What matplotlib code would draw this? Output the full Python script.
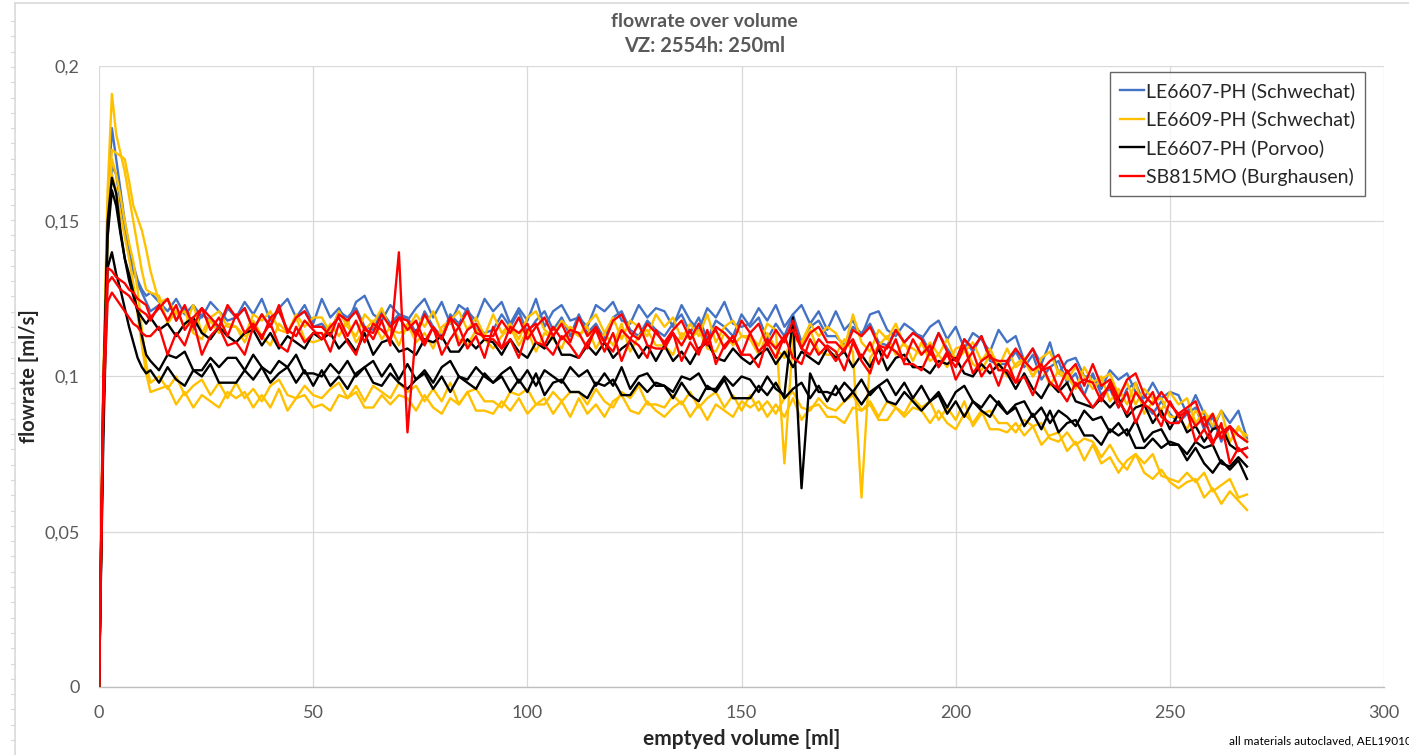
import numpy as np
import matplotlib
matplotlib.use("Agg")
import matplotlib.pyplot as plt
from matplotlib.lines import Line2D


# volume grid [ml]: 1 ml steps during the start-up, then 2 ml steps
volume = np.concatenate([np.arange(0, 12), np.arange(12, 269, 2)])

# flowrates in 1/1000 ml/s, one list per run
blue_a = [
    0, 95, 155, 180, 170, 160, 150, 142, 136, 131, 128, 126,
    127, 124, 121, 125, 120, 123, 119, 124, 121, 118,
    119, 124, 120, 125, 118, 122, 125, 119, 123, 117,
    125, 119, 122, 117, 124, 126, 120, 118, 123, 120,
    118, 122, 125, 119, 124, 117, 123, 121, 118, 125,
    121, 124, 117, 122, 118, 125, 116, 121, 123, 118,
    119, 116, 123, 121, 124, 118, 117, 123, 119, 122,
    121, 116, 123, 118, 115, 122, 119, 124, 117, 116,
    117, 122, 118, 123, 116, 120, 123, 117, 121, 115,
    121, 115, 118, 113, 120, 121, 115, 113, 117, 115,
    112, 116, 118, 112, 116, 109, 114, 112, 108, 115,
    111, 113, 105, 109, 104, 111, 101, 105, 106, 100,
    100, 96, 102, 99, 101, 95, 93, 98, 93, 95,
    94, 88, 94, 88, 83, 89, 85, 89, 80,
]
blue_b = [
    0, 85, 145, 168, 165, 156, 148, 140, 134, 130, 127, 124,
    121, 123, 125, 118, 122, 115, 120, 118, 115, 122,
    119, 122, 115, 120, 116, 122, 114, 119, 121, 116,
    117, 114, 121, 119, 122, 116, 115, 121, 117, 120,
    119, 114, 121, 116, 113, 120, 117, 122, 115, 114,
    115, 120, 116, 121, 114, 118, 121, 115, 119, 113,
    120, 114, 117, 112, 119, 121, 115, 113, 118, 115,
    113, 117, 120, 114, 119, 112, 118, 116, 113, 120,
    116, 119, 112, 117, 113, 120, 111, 116, 118, 113,
    113, 110, 116, 114, 117, 111, 110, 115, 111, 114,
    113, 108, 114, 109, 105, 112, 108, 113, 105, 104,
    104, 108, 103, 107, 99, 103, 105, 98, 101, 94,
    101, 94, 96, 90, 96, 98, 91, 88, 92, 88,
    85, 88, 90, 83, 87, 79, 84, 81, 79,
]
yellow_a = [
    0, 100, 160, 191, 178, 172, 166, 158, 150, 142, 134, 128,
    127, 126, 117, 121, 116, 123, 114, 119, 121, 116,
    116, 113, 120, 118, 121, 115, 114, 120, 116, 119,
    119, 114, 121, 116, 113, 120, 117, 122, 115, 114,
    115, 120, 116, 121, 114, 118, 121, 115, 119, 113,
    120, 114, 117, 112, 119, 121, 115, 113, 118, 115,
    113, 117, 120, 114, 119, 112, 118, 116, 113, 120,
    116, 119, 112, 117, 113, 120, 111, 116, 118, 113,
    113, 110, 117, 115, 72, 112, 111, 117, 113, 116,
    114, 109, 120, 111, 108, 115, 112, 117, 110, 109,
    107, 111, 107, 112, 105, 108, 111, 105, 109, 103,
    109, 103, 105, 100, 106, 108, 101, 99, 103, 100,
    96, 99, 101, 94, 98, 91, 96, 93, 89, 95,
    91, 93, 85, 89, 84, 89, 79, 83, 81,
]
yellow_b = [
    0, 95, 150, 173, 172, 171, 170, 163, 155, 151, 147, 141,
    134, 124, 125, 120, 121, 114, 112, 118, 114, 117,
    116, 111, 118, 113, 110, 117, 114, 119, 112, 111,
    112, 117, 113, 118, 111, 115, 118, 112, 116, 110,
    117, 111, 114, 109, 116, 118, 112, 110, 115, 112,
    109, 113, 116, 110, 115, 108, 114, 112, 109, 116,
    113, 116, 109, 114, 110, 117, 108, 113, 115, 110,
    110, 107, 114, 112, 115, 109, 108, 114, 110, 113,
    112, 107, 114, 109, 106, 113, 110, 115, 108, 107,
    107, 112, 108, 61, 106, 110, 113, 107, 111, 105,
    111, 105, 107, 103, 109, 110, 104, 102, 107, 104,
    100, 104, 106, 100, 104, 97, 102, 100, 96, 103,
    98, 100, 92, 96, 91, 98, 88, 92, 93, 87,
    87, 83, 89, 86, 88, 81, 79, 84, 79,
]
yellow_c = [
    0, 95, 150, 170, 165, 158, 150, 143, 137, 128, 115, 104,
    98, 100, 96, 100, 94, 97, 99, 94, 98, 93,
    98, 93, 96, 92, 97, 99, 94, 93, 97, 94,
    93, 96, 98, 93, 97, 92, 97, 95, 93, 98,
    95, 97, 92, 96, 92, 98, 91, 95, 96, 92,
    92, 90, 95, 94, 96, 91, 91, 95, 92, 95,
    95, 91, 96, 92, 90, 95, 93, 97, 91, 91,
    90, 94, 91, 95, 90, 93, 95, 90, 94, 89,
    94, 89, 92, 88, 93, 95, 90, 89, 93, 90,
    89, 92, 94, 89, 92, 87, 92, 90, 88, 93,
    90, 92, 86, 90, 86, 92, 84, 88, 89, 85,
    85, 82, 86, 84, 85, 80, 79, 82, 78, 80,
    79, 74, 78, 73, 70, 75, 72, 75, 68, 67,
    66, 69, 66, 69, 63, 65, 67, 61, 62,
]
yellow_d = [
    0, 90, 145, 165, 160, 152, 145, 138, 130, 120, 110, 101,
    95, 96, 97, 91, 95, 90, 94, 92, 90, 95,
    93, 95, 90, 94, 90, 96, 89, 93, 94, 90,
    91, 89, 94, 93, 95, 90, 90, 94, 91, 94,
    93, 89, 94, 90, 88, 93, 91, 95, 89, 89,
    88, 92, 89, 93, 88, 91, 93, 88, 92, 87,
    93, 88, 91, 87, 92, 94, 89, 88, 92, 89,
    87, 90, 92, 87, 91, 86, 91, 89, 87, 92,
    90, 92, 87, 91, 87, 93, 86, 90, 91, 87,
    87, 85, 90, 89, 91, 86, 86, 90, 87, 90,
    89, 85, 89, 85, 83, 88, 85, 89, 83, 83,
    82, 85, 81, 84, 78, 81, 82, 76, 79, 73,
    78, 72, 74, 69, 73, 75, 69, 67, 70, 66,
    64, 66, 67, 61, 64, 59, 63, 60, 57,
]
black_a = [
    0, 95, 150, 164, 159, 147, 138, 131, 126, 121, 119, 117,
    119, 115, 117, 113, 117, 119, 114, 112, 116, 113,
    111, 114, 115, 110, 114, 109, 113, 111, 109, 114,
    112, 114, 109, 112, 108, 114, 107, 111, 112, 108,
    109, 107, 112, 111, 113, 108, 108, 112, 109, 112,
    111, 107, 112, 108, 106, 111, 109, 113, 107, 107,
    106, 110, 107, 111, 106, 109, 111, 106, 110, 105,
    110, 105, 108, 104, 109, 111, 106, 105, 109, 106,
    104, 107, 109, 104, 108, 103, 108, 106, 104, 109,
    106, 108, 103, 107, 103, 109, 102, 106, 107, 103,
    103, 101, 105, 104, 106, 101, 100, 104, 101, 104,
    101, 96, 101, 96, 93, 98, 95, 98, 92, 91,
    90, 93, 90, 93, 87, 90, 91, 85, 89, 83,
    88, 82, 84, 79, 83, 84, 78, 76, 77,
]
black_b = [
    0, 90, 145, 160, 155, 146, 138, 133, 127, 121, 113, 107,
    105, 102, 107, 106, 108, 102, 102, 106, 103, 106,
    106, 102, 107, 103, 101, 105, 103, 107, 101, 101,
    100, 104, 101, 105, 100, 103, 105, 100, 104, 99,
    104, 99, 102, 98, 103, 105, 100, 99, 103, 100,
    98, 101, 103, 98, 102, 97, 102, 100, 98, 103,
    100, 102, 97, 101, 97, 103, 96, 100, 101, 97,
    97, 95, 100, 99, 101, 96, 96, 100, 97, 100,
    99, 95, 100, 96, 94, 119, 64, 101, 95, 95,
    94, 98, 95, 99, 94, 97, 99, 94, 98, 93,
    97, 92, 95, 90, 95, 97, 92, 90, 94, 91,
    88, 91, 92, 87, 90, 85, 89, 87, 84, 89,
    86, 87, 82, 85, 81, 86, 79, 82, 83, 78,
    78, 75, 79, 77, 78, 72, 71, 74, 71,
]
black_c = [
    0, 80, 135, 140, 133, 128, 122, 116, 111, 106, 103, 101,
    102, 98, 103, 99, 97, 102, 100, 104, 98, 98,
    98, 102, 99, 103, 98, 101, 103, 98, 102, 97,
    102, 97, 100, 96, 101, 103, 98, 97, 101, 98,
    96, 99, 101, 96, 100, 95, 100, 98, 96, 101,
    98, 100, 95, 99, 95, 101, 94, 98, 99, 95,
    95, 93, 98, 97, 99, 94, 94, 98, 95, 98,
    97, 93, 98, 94, 92, 97, 95, 99, 93, 93,
    93, 97, 94, 98, 93, 96, 98, 93, 97, 92,
    97, 92, 95, 91, 95, 97, 92, 91, 95, 92,
    89, 92, 94, 88, 92, 87, 92, 89, 87, 92,
    88, 90, 84, 88, 83, 89, 82, 85, 86, 81,
    81, 78, 83, 81, 83, 77, 77, 80, 77, 79,
    78, 73, 77, 72, 69, 73, 70, 73, 67,
]
red_a = [
    0, 100, 135, 134, 132, 131, 130, 128, 127, 125, 124, 123,
    119, 122, 125, 118, 123, 116, 122, 119, 116, 123,
    119, 122, 115, 120, 116, 123, 114, 119, 121, 116,
    116, 113, 120, 118, 121, 115, 114, 120, 116, 119,
    118, 113, 120, 115, 112, 119, 116, 121, 114, 113,
    113, 118, 114, 119, 112, 116, 119, 113, 117, 111,
    119, 113, 116, 111, 118, 120, 114, 112, 117, 114,
    111, 115, 118, 112, 117, 110, 116, 114, 111, 118,
    114, 117, 110, 115, 111, 118, 109, 114, 116, 111,
    111, 108, 115, 113, 116, 110, 109, 115, 111, 114,
    112, 107, 114, 108, 105, 112, 109, 113, 106, 105,
    105, 109, 105, 109, 102, 105, 107, 101, 104, 97,
    104, 97, 99, 93, 99, 101, 94, 91, 95, 91,
    88, 90, 92, 84, 88, 80, 84, 81, 79,
]
red_b = [
    0, 95, 130, 132, 130, 128, 127, 126, 124, 122, 121, 120,
    118, 123, 118, 123, 115, 119, 122, 115, 119, 113,
    120, 114, 117, 112, 119, 121, 115, 113, 118, 115,
    112, 116, 119, 113, 118, 111, 117, 115, 112, 119,
    115, 118, 111, 116, 112, 119, 110, 115, 117, 112,
    112, 109, 116, 114, 117, 111, 110, 116, 112, 115,
    114, 109, 116, 111, 108, 115, 112, 117, 110, 109,
    109, 114, 110, 115, 108, 112, 115, 109, 113, 107,
    114, 108, 111, 106, 113, 115, 109, 107, 112, 109,
    105, 109, 112, 106, 111, 104, 110, 108, 105, 112,
    107, 110, 103, 107, 103, 110, 101, 105, 107, 102,
    102, 98, 105, 102, 104, 98, 96, 102, 97, 99,
    98, 92, 98, 92, 88, 95, 91, 95, 87, 85,
    85, 89, 84, 87, 79, 82, 84, 76, 77,
]
red_c = [
    0, 90, 124, 127, 125, 123, 121, 119, 117, 116, 114, 113,
    113, 116, 107, 114, 110, 118, 107, 113, 116, 110,
    111, 107, 116, 113, 117, 110, 108, 116, 111, 114,
    114, 108, 117, 111, 107, 116, 112, 118, 110, 140,
    82, 115, 110, 116, 107, 112, 116, 109, 113, 106,
    116, 109, 112, 106, 115, 117, 110, 107, 113, 110,
    106, 111, 115, 108, 114, 105, 112, 110, 106, 115,
    110, 114, 105, 111, 107, 115, 104, 110, 113, 107,
    107, 103, 112, 109, 113, 106, 104, 112, 107, 110,
    108, 102, 111, 105, 101, 110, 106, 112, 104, 104,
    102, 108, 103, 108, 99, 104, 108, 100, 104, 97,
    105, 98, 100, 94, 102, 103, 96, 92, 98, 94,
    90, 94, 97, 90, 95, 85, 91, 89, 84, 92,
    87, 89, 79, 83, 78, 85, 72, 77, 74,
]

groups = [
    ("LE6607-PH (Schwechat)", "#4472C4", [blue_a, blue_b]),
    ("LE6609-PH (Schwechat)", "#FFC000", [yellow_a, yellow_b, yellow_c, yellow_d]),
    ("LE6607-PH (Porvoo)", "#000000", [black_a, black_b, black_c]),
    ("SB815MO (Burghausen)", "#FF0000", [red_a, red_b, red_c]),
]

x_ticks = [0, 50, 100, 150, 200, 250, 300]
y_ticks = [0, 0.05, 0.1, 0.15, 0.2]
y_tick_labels = ["0", "0,05", "0,1", "0,15", "0,2"]

plt.rcParams["font.family"] = ["Lato", "DejaVu Sans"]

fig = plt.figure(figsize=(14.09, 7.55), dpi=100)
ax = fig.add_axes([0.0703, 0.0901, 0.912, 0.8225])

for label, color, runs in groups:
    for run in runs:
        ax.plot(volume, np.array(run) / 1000.0, color=color, lw=1.7,
                solid_joinstyle="round", zorder=3)

ax.set_xlim(0, 300)
ax.set_ylim(0, 0.2)
ax.set_xticks(x_ticks)
ax.set_yticks(y_ticks)
ax.set_yticklabels(y_tick_labels)
ax.tick_params(length=0, labelsize=13, labelcolor="#595959")
ax.tick_params(axis="x", pad=13)
ax.tick_params(axis="y", pad=14)
ax.grid(True, color="#d9d9d9", lw=0.9, zorder=0)
for side in ["top", "right", "left"]:
    ax.spines[side].set_visible(False)
ax.spines["bottom"].set_color("#bfbfbf")
ax.spines["bottom"].set_linewidth(1.0)

ax.set_xlabel("emptyed volume [ml]", fontsize=15, fontweight="bold",
              color="#262626", labelpad=6)
ax.set_ylabel("flowrate [ml/s]", fontsize=14.5, fontweight="bold",
              color="#262626", labelpad=4)

fig.text(0.5, 0.971, "flowrate over volume", ha="center", va="center",
         fontsize=14, fontweight="bold", color="#595959")
fig.text(0.5, 0.939, "VZ: 2554h: 250ml", ha="center", va="center",
         fontsize=14.5, fontweight="bold", color="#595959")
fig.text(0.872, 0.018, "all materials autoclaved, AEL19010", ha="left",
         va="center", fontsize=8.5, color="#000000")

handles = [Line2D([], [], color=c, lw=1.7) for _, c, _ in groups]
leg = ax.legend(handles, [g[0] for g in groups], loc="upper right",
                bbox_to_anchor=(0.985, 0.990), fontsize=14, frameon=True,
                fancybox=False, edgecolor="#404040", handlelength=1.25,
                handletextpad=0.08, labelspacing=0.55, borderpad=0.5,
                borderaxespad=0, labelcolor="#262626")
leg.get_frame().set_linewidth(1.0)

# sheet border around the chart area
fig.add_artist(Line2D([15 / 1409, 15 / 1409], [0, 1 - 3 / 755],
                      color="#d9d9d9", lw=1.2))
fig.add_artist(Line2D([15 / 1409, 1], [1 - 3 / 755, 1 - 3 / 755],
                      color="#d9d9d9", lw=1.2))
for y_px in np.arange(21, 755, 15.3):
    fig.add_artist(Line2D([11 / 1409, 15 / 1409],
                          [1 - y_px / 755, 1 - y_px / 755],
                          color="#d9d9d9", lw=0.8))

fig.savefig("out.png", dpi=100)
